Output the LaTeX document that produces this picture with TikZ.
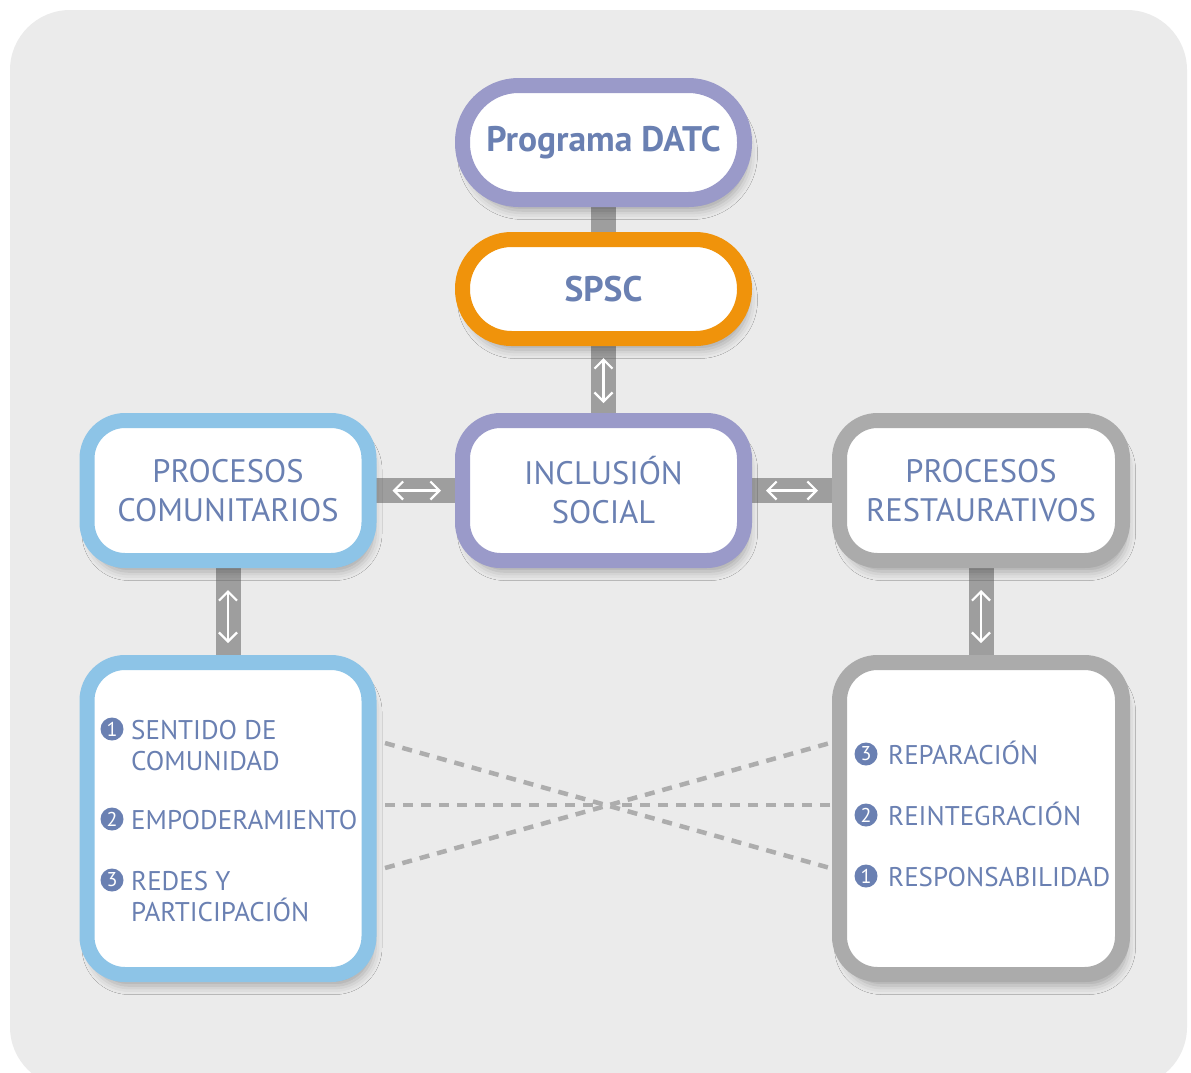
\documentclass[tikz,border=0pt]{standalone}
\usepackage{fontspec}
\setmainfont{PT Sans}
\usetikzlibrary{arrows.meta,shadows.blur}
\definecolor{bgc}{HTML}{EBEBEB}
\definecolor{lav}{HTML}{9A9AC9}
\definecolor{ora}{HTML}{F0930B}
\definecolor{lblue}{HTML}{8DC4E7}
\definecolor{gbox}{HTML}{ABABAB}
\definecolor{txt}{HTML}{6A80B2}
\definecolor{barc}{HTML}{9E9E9E}
\definecolor{dashc}{HTML}{ADADAD}
\begin{document}
\begin{tikzpicture}[x=1pt,y=-1pt,
  box/.style={draw, line width=15pt, fill=white, inner sep=0pt, align=center, text=txt,
    minimum width=282pt, rounded corners=38pt,
    blur shadow={shadow xshift=4pt, shadow yshift=-11pt, shadow blur radius=9pt, shadow opacity=30}},
  bigtxt/.style={font=\fontsize{32.5}{39}\selectfont},
  titletxt/.style={font=\fontsize{35.5}{40}\selectfont\bfseries},
  itemtxt/.style={anchor=base west, text=txt, inner sep=0pt, font=\fontsize{27}{31}\selectfont},
  num/.style={circle, fill=txt, text=white, inner sep=0pt, minimum size=23pt, font=\fontsize{20}{20}\selectfont},
  barline/.style={draw=barc, line width=25pt},
  warrow/.style={draw=white, line width=2.2pt, {Straight Barb[length=9pt,width=18pt]}-{Straight Barb[length=9pt,width=18pt]}},
  dashline/.style={draw=dashc, line width=4.5pt, dash pattern=on 10pt off 8pt}
]
\useasboundingbox (0,0) rectangle (1191,1072);
\fill[bgc, rounded corners=60pt] (10,10) rectangle (1187,1087);

% coordinates for box centres
\coordinate (cdatc) at (603.5,142.5);
\coordinate (cspsc) at (603.5,289);
\coordinate (cincl) at (603.5,490.5);
\coordinate (cpc) at (228,490.5);
\coordinate (cpr) at (981,490.5);
\coordinate (cbl) at (228,818.5);
\coordinate (cbr) at (981,818.5);

% bar connectors (behind boxes)
\draw[barline] (cdatc) -- (cspsc);
\draw[barline] (cspsc) -- (cincl);
\draw[barline] (cpc) -- (cincl);
\draw[barline] (cincl) -- (cpr);
\draw[barline] (cpc) -- (cbl);
\draw[barline] (cpr) -- (cbr);

% dashed lines
\coordinate (l1) at (385,743);
\coordinate (l2) at (385,805);
\coordinate (l3) at (385,868);
\coordinate (r1) at (830,743);
\coordinate (r2) at (830,805);
\coordinate (r3) at (830,868);
\coordinate (mc1) at (603,805);
\coordinate (mc2) at (612,805);
\draw[dashline] (l1) -- (r3);
\draw[dashline] (l3) -- (r1);
\draw[dashline, -{Triangle[length=3.5pt,width=3.5pt]}] (l2) -- (mc1);
\draw[dashline, -{Triangle[length=3.5pt,width=3.5pt]}] (r2) -- (mc2);

% boxes
\node[box, draw=lav, minimum height=114pt, rounded corners=56pt, titletxt] (datc) at (cdatc) {Programa DATC};
\node[box, draw=ora, minimum height=99pt, rounded corners=49pt, titletxt] (spsc) at (cspsc) {SPSC};
\node[box, draw=lav, minimum height=140pt, bigtxt] (incl) at (cincl) {INCLUSIÓN\\SOCIAL};
\node[box, draw=lblue, minimum height=140pt, bigtxt] (pc) at (cpc) {PROCESOS\\COMUNITARIOS};
\node[box, draw=gbox, minimum width=283pt, minimum height=140pt, bigtxt] (pr) at (cpr) {PROCESOS\\RESTAURATIVOS};
\node[box, draw=lblue, minimum height=312pt] (bl) at (cbl) {};
\node[box, draw=gbox, minimum width=283pt, minimum height=312pt] (br) at (cbr) {};

% white double arrows
\draw[warrow] ([yshift=-12pt]spsc.south) -- ([yshift=10pt]incl.north);
\draw[warrow] ([xshift=16pt]pc.east) -- ([xshift=-14pt]incl.west);
\draw[warrow] ([xshift=14pt]incl.east) -- ([xshift=-14pt]pr.west);
\draw[warrow] ([yshift=-22pt]pc.south) -- ([yshift=12pt]bl.north);
\draw[warrow] ([yshift=-22pt]pr.south) -- ([yshift=12pt]br.north);

% left items
\node[num] (a1) at (112,729) {1};
\node[itemtxt] (a1t) at (131,739) {SENTIDO DE};
\node[itemtxt] (a1u) at (131,770) {COMUNIDAD};
\node[num] (a2) at (112,819) {2};
\node[itemtxt] (a2t) at (131,829) {EMPODERAMIENTO};
\node[num] (a3) at (112,880) {3};
\node[itemtxt] (a3t) at (131,890) {REDES Y};
\node[itemtxt] (a3u) at (131,921) {PARTICIPACIÓN};

% right items
\node[num] (b3) at (866,754) {3};
\node[itemtxt] (b3t) at (888,764) {REPARACIÓN};
\node[num] (b2) at (866,815) {2};
\node[itemtxt] (b2t) at (888,825) {REINTEGRACIÓN};
\node[num] (b1) at (866,876) {1};
\node[itemtxt] (b1t) at (888,886) {RESPONSABILIDAD};
\end{tikzpicture}
\end{document}
